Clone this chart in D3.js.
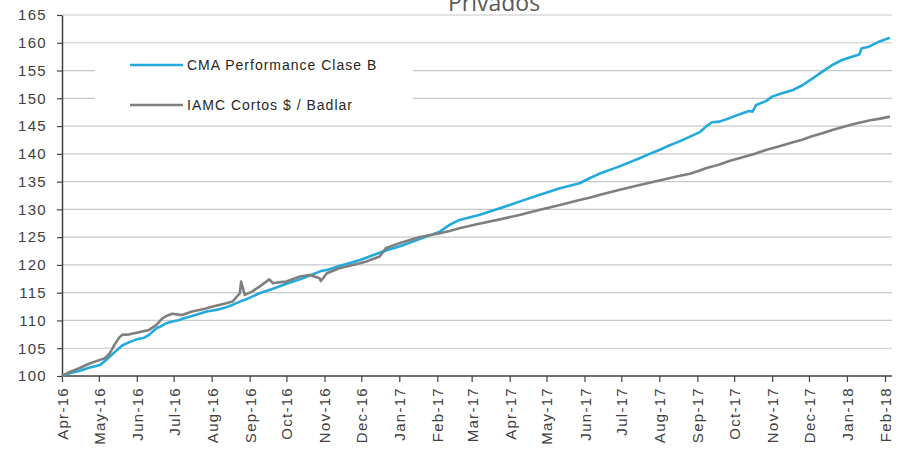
<!DOCTYPE html>
<html>
<head>
<meta charset="utf-8">
<script src="https://cdn.jsdelivr.net/npm/d3@7"></script>
<style>
  html, body { margin: 0; padding: 0; background: #ffffff; }
  svg { display: block; }
</style>
</head>
<body>
<svg id="chart" width="898" height="449"></svg>
<script>
// ---- Data ----
const dates = [
  "2016-04-01","2016-04-07","2016-04-15","2016-04-23","2016-05-02","2016-05-06","2016-05-10","2016-05-14",
  "2016-05-18","2016-05-20","2016-05-26","2016-06-01","2016-06-07","2016-06-11","2016-06-17","2016-06-22",
  "2016-06-25","2016-06-30","2016-07-06","2016-07-08","2016-07-16","2016-07-22","2016-07-28","2016-08-02",
  "2016-08-07","2016-08-13","2016-08-18","2016-08-24","2016-08-25","2016-08-28","2016-09-03","2016-09-09",
  "2016-09-17","2016-09-20","2016-09-26","2016-10-01","2016-10-12","2016-10-20","2016-10-28","2016-10-29",
  "2016-11-03","2016-11-13","2016-11-24","2016-11-30","2016-12-05","2016-12-16","2016-12-21","2017-01-01",
  "2017-01-17","2017-02-03","2017-02-11","2017-02-19","2017-03-07","2017-03-24","2017-04-09","2017-04-25",
  "2017-05-12","2017-05-28","2017-06-05","2017-06-13","2017-06-29","2017-07-16","2017-07-24","2017-08-01",
  "2017-08-09","2017-08-17","2017-08-26","2017-09-03","2017-09-08","2017-09-13","2017-09-19","2017-09-27",
  "2017-10-05","2017-10-13","2017-10-16","2017-10-19","2017-10-27","2017-11-01","2017-11-09","2017-11-18",
  "2017-11-26","2017-12-04","2017-12-12","2017-12-20","2017-12-28","2018-01-05","2018-01-11","2018-01-13",
  "2018-01-19","2018-01-27","2018-02-05"
];
const cmaValues = [
  100.0,100.5,100.9,101.5,102.0,102.7,103.5,104.3,
  105.1,105.5,106.1,106.6,106.9,107.4,108.6,109.1,
  109.5,109.8,110.1,110.3,110.8,111.2,111.6,111.8,
  112.0,112.4,112.8,113.4,113.5,113.7,114.3,114.9,
  115.5,115.7,116.2,116.6,117.4,118.1,118.8,118.9,
  119.1,119.8,120.5,120.9,121.3,122.2,122.6,123.3,
  124.6,126.0,127.2,128.1,129.0,130.2,131.4,132.6,
  133.8,134.7,135.6,136.4,137.7,139.2,140.0,140.7,
  141.5,142.2,143.1,143.9,144.9,145.7,145.8,146.4,
  147.1,147.7,147.6,148.8,149.5,150.3,150.9,151.5,
  152.4,153.6,154.8,156.0,156.9,157.5,157.9,159.0,
  159.3,160.2,160.9
];
const iamcValues = [
  100.0,100.7,101.4,102.2,102.9,103.2,104.1,105.7,
  107.0,107.4,107.5,107.8,108.1,108.3,109.2,110.4,
  110.8,111.2,111.0,111.0,111.6,111.9,112.2,112.5,
  112.8,113.1,113.4,114.9,117.0,114.6,115.2,116.1,
  117.4,116.7,116.9,117.0,117.9,118.2,117.6,117.1,
  118.5,119.4,120.0,120.3,120.6,121.5,123.0,123.9,
  125.0,125.7,126.1,126.6,127.4,128.2,129.0,129.9,
  130.8,131.7,132.1,132.6,133.5,134.4,134.8,135.2,
  135.6,136.0,136.4,137.0,137.4,137.7,138.1,138.7,
  139.2,139.7,139.9,140.1,140.7,141.0,141.5,142.1,
  142.6,143.2,143.7,144.3,144.8,145.3,145.6,145.7,
  146.0,146.3,146.7
];
const seriesNames = ["CMA Performance Clase B", "IAMC Cortos $ / Badlar"];
const seriesColors = ["#22a9dd", "#7f7f7f"];
const yTicks = [100,105,110,115,120,125,130,135,140,145,150,155,160,165];
const titleText = "Privados";

// ---- Layout ----
const svg = d3.select("#chart");
const parse = d3.timeParse("%Y-%m-%d");
const D = dates.map(parse);

const x = d3.scaleTime()
  .domain([parse("2016-04-01"), parse("2018-02-01")])
  .range([62, 885]);
const y = d3.scaleLinear().domain([100, 165]).range([376, 15]);
const xRight = 892;

const axisColor = "#404040";
const textColor = "#404040";
const fontFamily = "'Liberation Sans', Arial, sans-serif";

// gridlines
svg.append("g").selectAll("line")
  .data(yTicks.filter(v => v > 100))
  .join("line")
  .attr("x1", x.range()[0]).attr("x2", xRight)
  .attr("y1", d => y(d)).attr("y2", d => y(d))
  .attr("stroke", "#c8c8c8").attr("stroke-width", 1.2);

// title (its top is cropped by the picture edge, as in the reference)
svg.append("text")
  .attr("x", 494).attr("y", 11)
  .attr("text-anchor", "middle")
  .attr("font-family", "'Open Sans', sans-serif")
  .attr("font-size", 23)
  .attr("fill", "#595959")
  .text(titleText);

// y axis
const yAxis = d3.axisLeft(y).tickValues(yTicks).tickSize(5).tickSizeOuter(0).tickPadding(10);
const gy = svg.append("g").attr("transform", `translate(${x.range()[0]},0)`).call(yAxis);
gy.select(".domain").attr("stroke", axisColor).attr("stroke-width", 1.5);
gy.selectAll(".tick line").attr("stroke", axisColor).attr("stroke-width", 1.2);
gy.selectAll(".tick text")
  .attr("font-family", fontFamily).attr("font-size", 15)
  .attr("letter-spacing", 1.3)
  .attr("fill", textColor);

// x axis
const xAxis = d3.axisBottom(x)
  .ticks(d3.timeMonth.every(1))
  .tickFormat(d3.timeFormat("%b-%y"))
  .tickSize(6).tickSizeOuter(0);
const gx = svg.append("g").attr("transform", `translate(0,${y(100)})`).call(xAxis);
gx.select(".domain").remove();
gx.append("line").attr("x1", x.range()[0]).attr("x2", xRight)
  .attr("y1", 0).attr("y2", 0)
  .attr("stroke", axisColor).attr("stroke-width", 1.5);
gx.selectAll(".tick line").attr("stroke", axisColor).attr("stroke-width", 1.2);
gx.selectAll(".tick text")
  .attr("font-family", fontFamily).attr("font-size", 15)
  .attr("letter-spacing", 1.3)
  .attr("fill", textColor)
  .attr("text-anchor", "end")
  .attr("dy", null)
  .attr("transform", "translate(0,11) rotate(-90)")
  .attr("x", 0).attr("y", 0)
  .attr("dominant-baseline", "central");

// lines
const line = d3.line().x((d, i) => x(D[i])).y(d => y(d));
svg.append("path").datum(cmaValues)
  .attr("fill", "none").attr("stroke", seriesColors[0])
  .attr("stroke-width", 2.6).attr("stroke-linejoin", "round")
  .attr("d", line);
svg.append("path").datum(iamcValues)
  .attr("fill", "none").attr("stroke", seriesColors[1])
  .attr("stroke-width", 2.6).attr("stroke-linejoin", "round")
  .attr("d", line);

// legend
const lg = svg.append("g");
lg.append("rect").attr("x", 95).attr("y", 50).attr("width", 318).attr("height", 68)
  .attr("fill", "#ffffff");
seriesNames.forEach((name, i) => {
  const ly = 65 + i * 40;
  lg.append("line").attr("x1", 130).attr("x2", 183).attr("y1", ly).attr("y2", ly)
    .attr("stroke", seriesColors[i]).attr("stroke-width", 2.6);
  lg.append("text").attr("x", 187).attr("y", ly)
    .attr("dominant-baseline", "central")
    .attr("font-family", fontFamily).attr("font-size", 14)
    .attr("letter-spacing", 1)
    .attr("fill", "#262626")
    .text(name);
});
</script>
</body>
</html>
